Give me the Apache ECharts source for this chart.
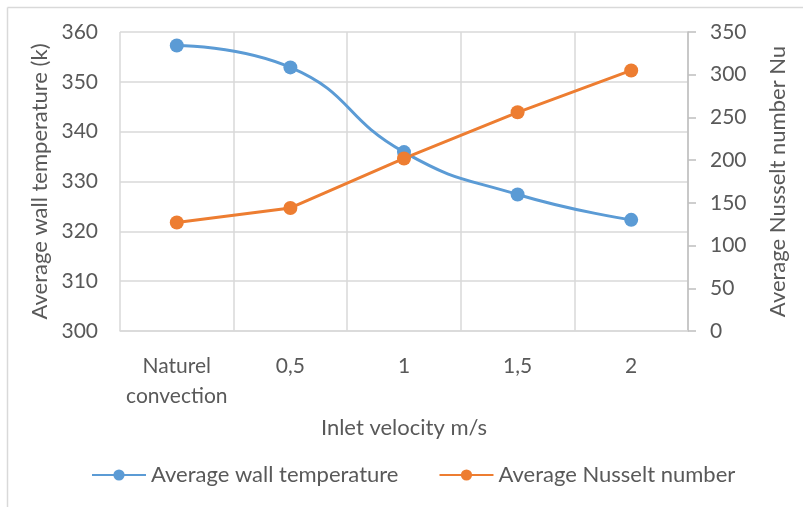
<!DOCTYPE html>
<html><head><meta charset="utf-8">
<script src="https://cdn.jsdelivr.net/npm/echarts@6/dist/echarts.min.js"></script>
<style>html,body{margin:0;padding:0;background:#fff}#c{width:803px;height:507px}</style>
</head><body><div id="c"></div>
<script>
var categories = ['Naturel\nconvection', '0,5', '1', '1,5', '2'];
var wallTemp = [357.3, 352.9, 335.9, 327.4, 322.3];
var nusselt = [127, 144, 202, 256, 305];
var seriesNames = ['Average wall temperature', 'Average Nusselt number'];

var FONT = 'Lato';
var TXT = '#595959';
var chart = echarts.init(document.getElementById('c'), null, {renderer: 'canvas'});
chart.setOption({
  animation: false,
  textStyle: {fontFamily: FONT},
  graphic: [
    {type: 'line', shape: {x1: 7.5, y1: 7.5, x2: 803, y2: 7.5}, style: {stroke: '#D9D9D9', lineWidth: 1.5}, silent: true},
    {type: 'line', shape: {x1: 7.5, y1: 7.5, x2: 7.5, y2: 507}, style: {stroke: '#D9D9D9', lineWidth: 1.5}, silent: true}
  ],
  grid: {left: 120, right: 115, top: 32, bottom: 176, containLabel: false},
  legend: {
    left: 86, top: 459, itemGap: 40, itemWidth: 54, itemHeight: 14,
    textStyle: {fontFamily: FONT, fontSize: 22, color: TXT},
    data: seriesNames
  },
  xAxis: {
    type: 'category', data: categories, boundaryGap: true,
    name: 'Inlet velocity m/s', nameLocation: 'middle', nameGap: 86,
    nameTextStyle: {fontFamily: FONT, fontSize: 22, color: TXT},
    axisLine: {show: true, lineStyle: {color: '#D9D9D9', width: 1.5}},
    axisTick: {show: false},
    axisLabel: {fontFamily: FONT, fontSize: 21, color: TXT, margin: 20, lineHeight: 30, interval: 0},
    splitLine: {show: true, interval: 0, lineStyle: {color: '#D9D9D9', width: 1.5}}
  },
  yAxis: [{
    type: 'value', min: 300, max: 360, interval: 10, position: 'left',
    name: 'Average wall temperature (k)', nameLocation: 'middle', nameGap: 67, nameRotate: 90,
    nameTextStyle: {fontFamily: FONT, fontSize: 22, color: TXT},
    axisLine: {show: false}, axisTick: {show: false},
    axisLabel: {fontFamily: FONT, fontSize: 21, color: TXT, margin: 22},
    splitLine: {show: true, lineStyle: {color: '#D9D9D9', width: 1.5}}
  }, {
    type: 'value', min: 0, max: 350, interval: 50, position: 'right',
    name: 'Average Nusselt number Nu', nameLocation: 'middle', nameGap: 79, nameRotate: 90,
    nameTextStyle: {fontFamily: FONT, fontSize: 22, color: TXT},
    axisLine: {show: true, lineStyle: {color: '#BFBFBF', width: 1.5}},
    axisTick: {show: true, length: 8, lineStyle: {color: '#BFBFBF', width: 1.5}},
    axisLabel: {fontFamily: FONT, fontSize: 21, color: TXT, margin: 22},
    splitLine: {show: false}
  }],
  series: [{
    name: seriesNames[0], type: 'line', yAxisIndex: 0, data: wallTemp, smooth: 0.5,
    symbol: 'circle', symbolSize: 14,
    lineStyle: {color: '#5B9BD5', width: 3}, itemStyle: {color: '#5B9BD5'}
  }, {
    name: seriesNames[1], type: 'line', yAxisIndex: 1, data: nusselt, smooth: false,
    symbol: 'circle', symbolSize: 14,
    lineStyle: {color: '#ED7D31', width: 3}, itemStyle: {color: '#ED7D31'}
  }]
});
</script></body></html>
